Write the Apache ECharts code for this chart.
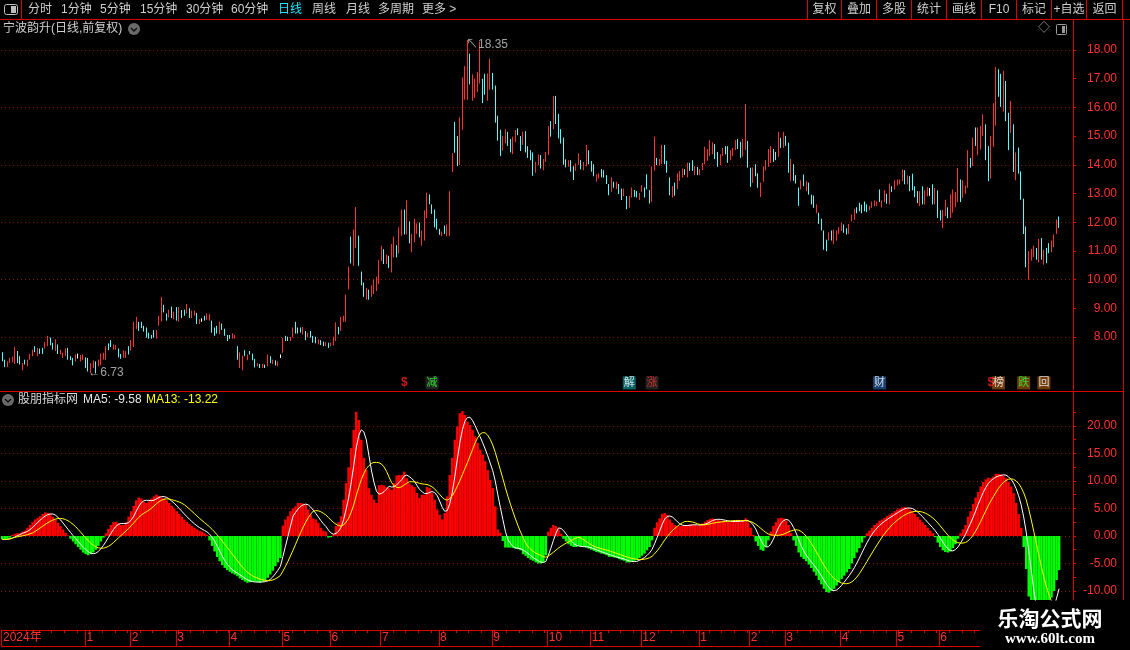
<!DOCTYPE html>
<html>
<head>
<meta charset="utf-8">
<title>宁波韵升 日线</title>
<style>
  html, body { margin: 0; padding: 0; background: #000; }
  #main { width: 1130px; height: 650px; }
</style>
<script src="https://cdn.jsdelivr.net/npm/echarts/dist/echarts.min.js"></script>
</head>
<body>
<div id="main"></div>
<script>
// daily bars (high / low of each bar, u = up, d = down, n = doji)
const highs = [
  7.47, 7.21, 7.15, 7.27, 7.31, 7.65, 7.51, 7.33, 7.09, 7.21,
  7.21, 7.41, 7.56, 7.68, 7.62, 7.60, 7.62, 7.82, 8.04, 7.98,
  7.80, 7.92, 7.74, 7.56, 7.45, 7.60, 7.62, 7.33, 7.27, 7.39,
  7.42, 7.37, 7.39, 7.29, 7.27, 7.09, 7.18, 7.15, 7.21, 7.42,
  7.45, 7.68, 7.78, 7.89, 7.74, 7.72, 7.60, 7.41, 7.53, 7.51,
  7.68, 7.89, 8.53, 8.70, 8.53, 8.53, 8.39, 8.33, 8.15, 8.07,
  8.24, 8.25, 8.74, 9.39, 9.12, 8.82, 8.95, 9.06, 8.88, 9.04,
  9.04, 8.94, 8.95, 9.15, 9.00, 8.92, 8.92, 8.84, 8.62, 8.65,
  8.74, 8.82, 8.80, 8.57, 8.33, 8.39, 8.53, 8.47, 8.29, 8.07,
  8.07, 8.13, 8.07, 7.68, 7.47, 7.35, 7.54, 7.39, 7.51, 7.42,
  7.24, 7.09, 7.06, 7.06, 7.04, 7.39, 7.33, 7.21, 7.19, 7.15,
  7.39, 7.98, 8.04, 8.01, 8.00, 8.33, 8.53, 8.33, 8.33, 8.35,
  8.21, 8.15, 8.21, 8.04, 8.01, 7.92, 7.89, 7.84, 7.82, 7.80,
  7.80, 8.01, 8.51, 8.35, 8.70, 8.74, 9.48, 10.45, 11.50, 11.74,
  12.53, 11.53, 10.28, 9.90, 9.70, 9.65, 9.80, 10.00, 10.10, 10.68,
  11.18, 11.06, 10.87, 10.83, 11.24, 11.50, 11.20, 11.82, 12.44, 12.44,
  12.76, 12.03, 11.59, 12.12, 11.96, 11.99, 11.71, 12.41, 13.03, 12.97,
  12.62, 12.44, 12.12, 11.77, 11.67, 11.88, 11.92, 13.08, 14.40, 15.49,
  15.00, 15.65, 17.05, 17.44, 18.35, 17.87, 17.15, 17.00, 17.23, 18.29,
  17.00, 17.17, 17.18, 17.70, 17.20, 16.76, 15.71, 15.22, 15.01, 15.24,
  15.15, 14.90, 14.98, 15.21, 15.27, 15.00, 15.15, 15.17, 14.65, 14.51,
  14.43, 14.10, 14.36, 14.34, 14.20, 14.45, 15.35, 15.52, 16.40, 16.40,
  15.77, 15.24, 14.95, 14.19, 14.16, 14.16, 13.95, 14.05, 14.40, 14.16,
  14.10, 14.69, 14.51, 14.13, 14.02, 13.67, 13.70, 13.85, 13.81, 13.64,
  13.33, 13.56, 13.41, 13.41, 13.33, 13.17, 13.17, 12.91, 12.91, 13.21,
  13.12, 13.08, 13.02, 13.29, 13.21, 13.67, 13.12, 13.95, 14.98, 14.24,
  14.20, 14.69, 14.69, 14.14, 13.56, 13.26, 13.38, 13.70, 13.78, 13.87,
  13.85, 14.07, 14.07, 14.16, 13.95, 13.93, 13.85, 14.07, 14.63, 14.55,
  14.86, 14.78, 14.72, 14.45, 14.37, 14.59, 14.65, 14.65, 14.51, 14.59,
  14.86, 14.90, 14.80, 14.90, 16.12, 14.83, 13.90, 13.91, 14.02, 13.70,
  13.38, 13.95, 14.16, 14.55, 14.65, 14.55, 14.45, 15.15, 14.94, 15.15,
  15.01, 14.77, 14.20, 14.02, 13.64, 13.21, 13.46, 13.66, 13.43, 13.38,
  12.96, 12.93, 12.62, 12.33, 12.12, 11.71, 11.39, 11.65, 11.71, 11.74,
  11.71, 11.83, 11.98, 11.92, 11.79, 11.94, 12.27, 12.47, 12.52, 12.68,
  12.61, 12.72, 12.62, 12.56, 12.72, 12.76, 12.72, 13.14, 12.76, 13.11,
  12.99, 13.34, 13.25, 13.46, 13.48, 13.49, 13.84, 13.81, 13.63, 13.60,
  13.69, 13.25, 13.08, 13.08, 13.25, 13.11, 13.22, 13.19, 13.32, 13.19,
  13.11, 12.41, 12.43, 12.78, 12.52, 12.97, 13.14, 13.05, 13.89, 13.49,
  13.46, 13.28, 14.51, 14.24, 14.95, 15.30, 15.30, 15.35, 15.76, 15.41,
  14.65, 15.00, 16.14, 17.40, 17.33, 17.17, 17.28, 16.92, 15.81, 16.22,
  15.41, 14.43, 14.60, 13.77, 12.82, 11.85, 10.99, 11.07, 11.18, 11.10,
  11.42, 11.45, 11.04, 11.10, 11.27, 11.36, 11.57, 12.09, 12.20
];
const lows = [
  7.15, 6.95, 6.95, 7.09, 7.12, 7.06, 7.09, 7.04, 6.84, 7.04,
  6.98, 7.21, 7.33, 7.47, 7.33, 7.41, 7.41, 7.60, 7.68, 7.71,
  7.56, 7.51, 7.41, 7.39, 7.27, 7.35, 7.21, 7.19, 7.01, 7.15,
  7.25, 7.15, 7.19, 6.92, 6.80, 6.74, 6.92, 6.73, 6.98, 7.01,
  7.21, 7.21, 7.54, 7.65, 7.56, 7.56, 7.29, 7.24, 7.27, 7.27,
  7.39, 7.53, 7.65, 8.27, 8.21, 8.31, 8.19, 7.98, 7.94, 7.94,
  7.98, 7.94, 8.39, 8.54, 8.86, 8.57, 8.68, 8.66, 8.62, 8.57,
  8.54, 8.66, 8.74, 8.82, 8.66, 8.66, 8.74, 8.45, 8.45, 8.53,
  8.57, 8.59, 8.57, 8.15, 8.04, 8.12, 8.09, 8.24, 8.04, 7.86,
  7.94, 7.94, 7.94, 7.21, 6.92, 6.84, 7.33, 7.19, 7.39, 7.19,
  6.94, 6.98, 6.92, 6.92, 6.92, 6.98, 7.09, 7.06, 7.01, 6.98,
  7.27, 7.45, 7.86, 7.86, 7.86, 7.98, 8.12, 8.12, 8.15, 8.09,
  7.89, 7.98, 7.98, 7.80, 7.78, 7.74, 7.72, 7.68, 7.68, 7.62,
  7.68, 7.71, 7.86, 8.09, 8.21, 8.53, 8.53, 9.66, 10.56, 10.48,
  11.10, 10.48, 9.80, 9.40, 9.30, 9.30, 9.40, 9.50, 9.60, 9.85,
  10.65, 10.54, 10.54, 10.40, 10.25, 10.77, 10.77, 10.91, 11.53, 11.57,
  11.57, 11.26, 10.95, 11.30, 11.59, 11.47, 11.18, 11.36, 12.14, 12.62,
  12.29, 11.82, 11.74, 11.56, 11.51, 11.59, 11.51, 11.51, 13.75, 14.42,
  13.96, 13.99, 15.22, 16.27, 16.27, 16.80, 16.23, 16.33, 16.53, 16.83,
  16.15, 16.44, 16.23, 16.62, 16.62, 15.47, 14.84, 14.30, 14.49, 14.74,
  14.66, 14.43, 14.37, 14.80, 15.03, 14.48, 14.69, 14.43, 14.24, 14.16,
  13.62, 13.72, 13.99, 13.87, 13.81, 14.10, 14.34, 14.98, 15.24, 15.42,
  14.92, 14.74, 14.00, 13.91, 13.93, 13.76, 13.47, 13.79, 14.00, 13.84,
  13.81, 13.95, 14.02, 13.76, 13.60, 13.41, 13.52, 13.56, 13.55, 13.33,
  12.94, 13.06, 13.20, 13.15, 12.98, 12.77, 12.91, 12.45, 12.51, 12.86,
  12.88, 12.86, 12.77, 13.06, 12.86, 13.15, 12.65, 12.71, 13.79, 13.99,
  13.97, 14.02, 14.02, 13.72, 12.94, 12.86, 12.92, 13.15, 13.44, 13.56,
  13.64, 13.56, 13.79, 13.79, 13.64, 13.64, 13.64, 13.81, 14.02, 14.14,
  14.31, 14.37, 14.20, 13.93, 13.99, 14.31, 14.36, 14.07, 14.16, 14.31,
  14.51, 14.55, 14.24, 14.28, 14.51, 13.90, 13.23, 13.37, 13.60, 13.20,
  12.88, 13.41, 13.81, 13.93, 14.07, 14.10, 14.16, 14.28, 14.59, 14.59,
  14.66, 13.72, 13.44, 13.44, 13.35, 12.57, 13.14, 13.25, 13.08, 12.96,
  12.62, 12.50, 12.31, 11.94, 11.71, 11.04, 10.99, 11.36, 11.36, 11.24,
  11.36, 11.59, 11.69, 11.63, 11.57, 11.59, 12.03, 12.08, 12.31, 12.38,
  12.31, 12.38, 12.35, 12.41, 12.50, 12.55, 12.56, 12.70, 12.52, 12.70,
  12.64, 12.62, 13.05, 13.14, 13.28, 13.32, 13.43, 13.32, 13.32, 13.08,
  13.11, 12.87, 12.66, 12.56, 12.62, 12.62, 12.90, 12.92, 12.62, 12.62,
  12.15, 12.06, 11.79, 12.21, 12.14, 12.15, 12.33, 12.52, 12.70, 12.70,
  12.85, 12.99, 13.20, 13.90, 13.96, 14.66, 14.33, 14.53, 15.01, 14.16,
  13.43, 13.52, 14.62, 15.36, 16.37, 16.02, 15.85, 15.52, 14.51, 15.11,
  13.75, 13.46, 13.69, 12.78, 11.59, 10.43, 9.99, 10.66, 10.78, 10.69,
  10.60, 10.69, 10.52, 10.57, 10.92, 10.95, 11.13, 11.59, 11.80
];
const dirs = [
  'dduuuuddud', 'uuududduud', 'duduuudddu', 'nuudduuduu', 'uudduudduu',
  'duuudddddd', 'duuuddudud', 'udduduudun', 'duuddduddd', 'duuduududd',
  'dududududu', 'nudduudddu', 'duddduddud', 'uuuduuuudu', 'uddduduuuu',
  'ududuuduud', 'uduuuduuud', 'dddduduuud', 'duuuuduuuu', 'dduudddduu',
  'dduudduddd', 'duuduuudud', 'ddddudduud', 'uuddduuddd', 'dududduduu',
  'dduuddduud', 'uuddduduuu', 'dudduduuuu', 'uudduudduu', 'udduuddudd',
  'uuuuuddudu', 'ddudddudud', 'dduddddudu', 'uuudduuudd', 'ddduuuuduu',
  'duduuuudud', 'ddduduundu', 'dduuduuuud', 'uuududuuud', 'duuudduddu',
  'dudddduuud', 'ududduuud'
].join('');

// indicator histogram (股朋指标网), one value per bar
const hist = [
  -0.6, -0.7, -0.5, -0.3, 0.2, 0.4, 0.5, 0.5, 0.8, 1.0,
  1.5, 2.0, 2.5, 3.0, 3.3, 3.6, 4.0, 4.3, 4.2, 4.0,
  3.5, 3.0, 2.4, 1.8, 1.2, 0.6, 0.1, -0.5, -1.0, -1.5,
  -2.0, -2.5, -3.0, -3.3, -3.5, -3.3, -3.0, -2.5, -1.8, -1.0,
  -0.3, 0.5, 1.3, 2.0, 2.5, 2.6, 2.3, 2.0, 2.0, 2.5,
  3.5, 4.5, 5.5, 6.5, 7.0, 6.8, 6.2, 6.0, 6.3, 6.8,
  7.2, 7.5, 7.3, 7.0, 6.8, 6.5, 6.0, 5.5, 5.0, 4.5,
  4.0, 3.5, 3.0, 2.6, 2.2, 1.8, 1.5, 1.2, 1.0, 0.8,
  0.5, 0.2, -0.8, -1.8, -2.8, -3.8, -4.6, -5.3, -5.8, -6.2,
  -6.5, -6.8, -7.0, -7.3, -7.7, -8.0, -8.3, -8.5, -8.4, -8.3,
  -8.3, -8.4, -8.5, -8.3, -8.0, -7.6, -7.0, -6.3, -5.5, -4.8,
  -4.0, 1.9, 3.0, 3.6, 4.5, 5.0, 5.4, 6.0, 6.0, 5.9,
  5.7, 4.8, 3.9, 3.2, 3.0, 2.4, 1.5, 1.0, 0.8, -0.3,
  -0.2, 0.3, 1.8, 2.5, 3.6, 6.6, 9.6, 12.5, 16.0, 19.3,
  22.6, 21.1, 17.5, 14.2, 12.0, 8.7, 7.5, 6.6, 6.0, 9.2,
  9.3, 9.2, 8.9, 8.7, 8.4, 9.6, 11.0, 11.1, 11.1, 11.7,
  10.5, 9.6, 9.2, 8.9, 7.8, 6.9, 7.5, 7.5, 8.9, 8.7,
  7.8, 6.6, 4.8, 3.9, 3.0, 4.2, 7.2, 11.1, 14.2, 17.5,
  19.9, 22.3, 22.7, 22.0, 20.8, 20.2, 19.3, 18.1, 16.9, 15.7,
  14.8, 13.6, 12.0, 10.2, 8.7, 5.4, 1.2, 0.6, -0.9, -2.1,
  -2.1, -2.1, -2.2, -2.3, -2.4, -2.6, -3.3, -3.6, -4.0, -4.3,
  -4.5, -4.8, -5.0, -5.0, -4.8, -3.5, 0.8, 1.5, 2.0, 1.8,
  1.2, 0.4, -0.5, -1.0, -1.5, -1.8, -2.0, -2.0, -1.8, -1.9,
  -2.0, -2.1, -2.3, -2.5, -2.7, -2.9, -3.0, -3.2, -3.3, -3.5,
  -3.8, -3.8, -3.9, -4.0, -4.2, -4.4, -4.5, -4.8, -4.8, -4.6,
  -4.5, -4.3, -4.0, -3.6, -3.2, -2.6, -2.0, -0.8, 1.5, 2.5,
  3.2, 4.0, 4.2, 3.8, 3.0, 2.4, 2.0, 1.8, 1.8, 1.9,
  2.0, 2.0, 2.1, 2.1, 2.0, 1.9, 2.0, 2.3, 2.6, 2.9,
  3.1, 3.2, 3.1, 2.9, 2.8, 2.8, 2.7, 2.6, 2.5, 2.6,
  2.8, 2.8, 2.7, 2.7, 3.2, 2.5, 1.5, 0.2, -1.0, -1.8,
  -2.5, -2.7, -2.0, -0.8, 0.8, 1.8, 2.5, 3.2, 3.3, 3.2,
  2.8, 2.0, 0.5, -0.8, -1.8, -3.0, -3.8, -4.2, -4.6, -5.2,
  -5.8, -6.5, -7.2, -8.0, -8.8, -9.6, -10.2, -10.3, -10.0, -9.6,
  -9.0, -8.4, -7.8, -7.2, -6.6, -6.0, -5.0, -4.0, -3.0, -2.2,
  -1.2, -0.3, 0.5, 1.0, 1.5, 2.0, 2.3, 2.8, 3.0, 3.3,
  3.6, 3.9, 4.2, 4.5, 4.8, 5.0, 5.2, 5.3, 5.1, 4.8,
  4.5, 4.0, 3.5, 3.0, 2.5, 2.0, 1.5, 1.0, 0.5, -0.2,
  -1.2, -2.0, -2.6, -2.9, -3.0, -2.8, -2.2, -1.5, -0.5, 0.5,
  1.2, 2.0, 3.5, 4.5, 5.8, 7.0, 8.0, 9.0, 9.8, 10.3,
  10.6, 10.5, 10.8, 11.3, 11.3, 11.2, 11.0, 10.5, 9.8, 9.0,
  7.8, 6.0, 4.0, 1.5, -2.0, -6.0, -11.0, -14.0, -16.0, -17.3,
  -17.5, -17.2, -16.2, -14.8, -12.5, -11.2, -10.0, -8.0, -6.2
];

// bottom date axis: first bar of each month
const monthStarts = [0, 33, 51, 69, 90, 111, 130, 150, 173, 194, 216, 233, 253, 276, 296, 310, 332, 354, 371];
const monthNames = ['2024年', '1', '2', '3', '4', '5', '6', '7', '8', '9', '10', '11', '12', '1', '2', '3', '4', '5', '6'];

// event flags under the candles
const flagIdx = [159, 170, 248, 257, 347, 391, 394, 404, 412];
const flagText = ['$', '减', '解', '涨', '财', '$', '榜', '跌', '回'];

// axis ticks
const priceLabels = [8, 9, 10, 11, 12, 13, 14, 15, 16, 17, 18];
const priceGrid = [8, 10, 12, 14, 16, 18];
const indLabels = [-10, -5, 0, 5, 10, 15, 20];
const indTicks = [-10, -7.5, -5, -2.5, 0, 2.5, 5, 7.5, 10, 12.5, 15, 17.5, 20, 22.5];

const SLOTS = 424;
const RED = '#ff3232';
const LINE_RED = '#e00000';
const DOT_RED = '#990f0f';
const FONT = '"Liberation Sans", "Noto Sans CJK SC", sans-serif';

const cats = Array.from({ length: SLOTS }, (_, i) => String(i));
const isMonthStart = (i) => monthStarts.indexOf(i) >= 0;

const candles = lows.map((lo, i) => {
  const hi = highs[i];
  const d = dirs[i];
  if (d === 'u') return [lo, hi, lo, hi];
  if (d === 'd') return [hi, lo, lo, hi];
  const m = +((lo + hi) / 2).toFixed(2);
  return [m, m, lo, hi];
});

function movingAvg(arr, n) {
  return arr.map((_, i) => {
    const s = arr.slice(Math.max(0, i - n + 1), i + 1);
    return +(s.reduce((a, b) => a + b, 0) / s.length).toFixed(3);
  });
}
const ma5 = movingAvg(hist, 5);
const ma13 = movingAvg(hist, 13);

// highest high / lowest low for the price tags
let hiIdx = 0, loIdx = 0;
highs.forEach((v, i) => { if (v > highs[hiIdx]) hiIdx = i; });
lows.forEach((v, i) => { if (v < lows[loIdx]) loIdx = i; });

const flagStyle = {
  '$': { bg: 'rgba(0,0,0,0)', fg: '#ff2020' },
  '减': { bg: '#2a2a2a', fg: '#33ff33' },
  '解': { bg: '#0a7a80', fg: '#ffffff' },
  '涨': { bg: '#2a2a2a', fg: '#ff3030' },
  '财': { bg: '#1d4f8c', fg: '#ffffff' },
  '榜': { bg: '#8a4a12', fg: '#ffffff' },
  '跌': { bg: '#8a4a12', fg: '#33ff33' },
  '回': { bg: '#8a4a12', fg: '#ffffff' }
};
const flagData = flagIdx.map((idx, k) => {
  const t = flagText[k];
  const st = flagStyle[t];
  return {
    value: [idx, 6.40],
    itemStyle: { color: st.bg },
    label: { show: true, formatter: t, color: st.fg, position: 'inside',
      fontSize: t === '$' ? 12 : 11, fontWeight: t === '$' ? 'bold' : 'normal', fontFamily: FONT }
  };
});

// chrome: toolbar, titles, watermark
const g = [];
function txt(x, y, s, fill, size, align) {
  g.push({ type: 'text', x: x, y: y, silent: true, z: 100,
    style: { text: s, fill: fill, font: (size || 12) + 'px ' + FONT, verticalAlign: 'middle', align: align || 'left' } });
}
function ln(x1, y1, x2, y2, color) {
  g.push({ type: 'line', silent: true, z: 90, shape: { x1: x1, y1: y1, x2: x2, y2: y2 },
    style: { stroke: color || LINE_RED, lineWidth: 1 } });
}

ln(0, 19.5, 1130, 19.5);
ln(21.5, 0, 21.5, 19.5);
g.push({ type: 'rect', silent: true, shape: { x: 4.5, y: 4.5, width: 13, height: 10, r: 2 },
  style: { fill: 'none', stroke: '#bdbdbd', lineWidth: 1 } });
g.push({ type: 'rect', silent: true, shape: { x: 11, y: 6, width: 5, height: 7 }, style: { fill: '#bdbdbd' } });

const tbText = ['分时', '1分钟', '5分钟', '15分钟', '30分钟', '60分钟', '日线', '周线', '月线', '多周期', '更多 >'];
const tbX = [28, 61, 100, 140, 186, 231, 278, 312, 346, 378, 422];
tbText.forEach((s, k) => txt(tbX[k], 10, s, s === '日线' ? '#22e6ff' : '#cfcfcf', 12));

const btnText = ['复权', '叠加', '多股', '统计', '画线', 'F10', '标记', '+自选', '返回'];
const btnSep = [807.5, 841.5, 876.5, 911.5, 946.5, 981.5, 1016.5, 1051.5, 1086.5, 1122.5];
btnSep.forEach(x => ln(x, 0, x, 19.5));
btnText.forEach((s, k) => txt((btnSep[k] + btnSep[k + 1]) / 2, 10, s, '#cfcfcf', 12, 'center'));

txt(3, 29, '宁波韵升(日线,前复权)', '#cfcfcf', 12);
g.push({ type: 'circle', silent: true, shape: { cx: 134, cy: 29, r: 6 }, style: { fill: '#6a6a6a' } });
g.push({ type: 'polyline', silent: true, shape: { points: [[131, 28], [134, 31], [137, 28]] },
  style: { stroke: '#111', lineWidth: 1.5, fill: 'none' } });
txt(1038, 29, '◇', '#9a9a9a', 12);
g.push({ type: 'rect', silent: true, shape: { x: 1056.5, y: 24.5, width: 10, height: 10, r: 1 },
  style: { fill: 'none', stroke: '#9a9a9a', lineWidth: 1 } });
g.push({ type: 'rect', silent: true, shape: { x: 1062, y: 26, width: 3, height: 7 }, style: { fill: '#9a9a9a' } });

ln(0, 391.5, 1123.5, 391.5);
ln(1123.5, 19.5, 1123.5, 600);

g.push({ type: 'circle', silent: true, shape: { cx: 8, cy: 400, r: 6 }, style: { fill: '#6a6a6a' } });
g.push({ type: 'polyline', silent: true, shape: { points: [[5, 399], [8, 402], [11, 399]] },
  style: { stroke: '#111', lineWidth: 1.5, fill: 'none' } });
txt(18, 400, '股朋指标网', '#d8d8d8', 12);
txt(83, 400, 'MA5: ' + ma5[ma5.length - 1].toFixed(2), '#e8e8e8', 12);
txt(146, 400, 'MA13: ' + ma13[ma13.length - 1].toFixed(2), '#ffff00', 12);

g.push({ type: 'rect', silent: true, z: 110, shape: { x: 980, y: 601, width: 150, height: 49 }, style: { fill: '#000' } });
g.push({ type: 'text', silent: true, z: 120, x: 1050, y: 618,
  style: { text: '乐淘公式网', fill: '#ffffff', font: 'bold 21px "Noto Sans CJK SC"', align: 'center', verticalAlign: 'middle' } });
g.push({ type: 'text', silent: true, z: 120, x: 1050, y: 639,
  style: { text: 'www.60lt.com', fill: '#ffffff', font: 'bold 15px "Liberation Serif"', align: 'center', verticalAlign: 'middle' } });

const chart = echarts.init(document.getElementById('main'));
chart.setOption({
  backgroundColor: '#000',
  animation: false,
  grid: [
    { left: 1, top: 20, width: 1072, height: 370 },
    { left: 1, top: 392, width: 1072, height: 208 },
    { left: 1, top: 630, width: 1072, height: 16 },
    { left: 1, top: 630, width: 1072, height: 3 }
  ],
  xAxis: [
    { type: 'category', gridIndex: 0, data: cats, show: false },
    { type: 'category', gridIndex: 1, data: cats, show: false },
    {
      type: 'category', gridIndex: 2, data: cats, position: 'top',
      axisLine: { onZero: false, lineStyle: { color: LINE_RED } },
      axisTick: { show: false },
      axisLabel: {
        inside: true, interval: isMonthStart, hideOverlap: false,
        formatter: (v, i) => monthNames[monthStarts.indexOf(i)] || '',
        color: RED, fontSize: 12, fontFamily: FONT, align: 'left', verticalAlign: 'middle', margin: 8
      },
      splitLine: { show: true, interval: isMonthStart, lineStyle: { color: LINE_RED, width: 1 } }
    },
    {
      type: 'category', gridIndex: 2, data: cats, position: 'bottom',
      axisLine: { onZero: false, lineStyle: { color: LINE_RED } }, axisTick: { show: false }, axisLabel: { show: false }
    },
    {
      // short weekly ticks hanging under the date line
      type: 'category', gridIndex: 3, data: cats,
      axisLine: { show: false }, axisTick: { show: false }, axisLabel: { show: false },
      splitLine: { show: true, interval: 4, lineStyle: { color: LINE_RED, width: 1 } }
    }
  ],
  yAxis: [
    {
      type: 'value', gridIndex: 0, position: 'right', min: 6.153, max: 19.045,
      axisLine: { show: true, onZero: false, lineStyle: { color: LINE_RED } },
      axisTick: { show: true, length: 3, customValues: priceLabels, lineStyle: { color: LINE_RED } },
      axisLabel: { customValues: priceLabels, formatter: v => v.toFixed(2), color: RED, fontSize: 12,
        fontFamily: FONT, align: 'right', margin: 44 },
      splitLine: { show: false }
    },
    {
      type: 'value', gridIndex: 0, position: 'right', min: 6.153, max: 19.045,
      axisLine: { show: false }, axisTick: { show: false, customValues: priceGrid },
      axisLabel: { show: false, customValues: priceGrid },
      splitLine: { show: true, lineStyle: { color: DOT_RED, type: [1, 3], width: 1 } }
    },
    {
      type: 'value', gridIndex: 1, position: 'right', min: -11.636, max: 26.18,
      axisLine: { show: true, onZero: false, lineStyle: { color: LINE_RED } },
      axisTick: { show: true, length: 3, customValues: indTicks, lineStyle: { color: LINE_RED } },
      axisLabel: { customValues: indLabels, formatter: v => v.toFixed(2), color: RED, fontSize: 12,
        fontFamily: FONT, align: 'right', margin: 44 },
      splitLine: { show: false }
    },
    {
      type: 'value', gridIndex: 1, position: 'right', min: -11.636, max: 26.18,
      axisLine: { show: false }, axisTick: { show: false, customValues: indLabels },
      axisLabel: { show: false, customValues: indLabels },
      splitLine: { show: true, lineStyle: { color: DOT_RED, type: [1, 3], width: 1 } }
    },
    { type: 'value', gridIndex: 2, min: 0, max: 1, show: false },
    { type: 'value', gridIndex: 3, min: 0, max: 1, show: false }
  ],
  series: [
    {
      type: 'candlestick', xAxisIndex: 0, yAxisIndex: 0, data: candles, barWidth: 1,
      itemStyle: { color: RED, color0: '#54fcfc', borderColor: RED, borderColor0: '#54fcfc',
        borderColorDoji: '#ffffff', borderWidth: 1 }
    },
    {
      type: 'scatter', xAxisIndex: 0, yAxisIndex: 0, symbol: 'rect', symbolSize: 13, data: flagData, z: 5
    },
    {
      type: 'scatter', xAxisIndex: 0, yAxisIndex: 0, symbolSize: 1, itemStyle: { color: 'rgba(0,0,0,0)' },
      data: [
        { value: [hiIdx, highs[hiIdx]], label: { show: true, position: 'right', distance: 0, offset: [-2, 5],
          formatter: '↖' + highs[hiIdx].toFixed(2), color: '#c8c8c8', fontSize: 12, fontFamily: FONT } },
        { value: [loIdx, lows[loIdx]], label: { show: true, position: 'right', distance: 0, offset: [-8, -1],
          formatter: '←' + lows[loIdx].toFixed(2), color: '#c8c8c8', fontSize: 12, fontFamily: FONT } }
      ]
    },
    {
      type: 'bar', xAxisIndex: 1, yAxisIndex: 2, data: hist, barWidth: '100%',
      itemStyle: { color: p => (p.value >= 0 ? '#ff0000' : '#00ff00') }
    },
    {
      type: 'line', xAxisIndex: 1, yAxisIndex: 2, data: ma5, symbol: 'none',
      lineStyle: { color: '#ffffff', width: 1 }
    },
    {
      type: 'line', xAxisIndex: 1, yAxisIndex: 2, data: ma13, symbol: 'none',
      lineStyle: { color: '#ffff00', width: 1 }
    }
  ],
  graphic: g
});
</script>
</body>
</html>
